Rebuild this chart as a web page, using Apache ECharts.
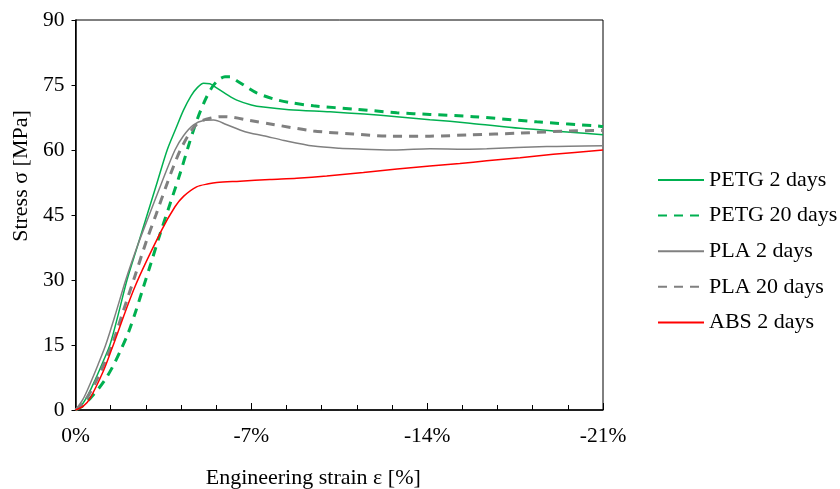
<!DOCTYPE html>
<html>
<head>
<meta charset="utf-8">
<script src="https://cdn.jsdelivr.net/npm/echarts@6/dist/echarts.min.js"></script>
<style>
  html, body { margin: 0; padding: 0; background: #fff; }
  #chart { width: 840px; height: 489px; }
</style>
</head>
<body>
<div id="chart"></div>
<script>
// Compression stress-strain curves (strain in %, stress in MPa)
const seriesNames = ['PETG 2 days', 'PETG 20 days', 'PLA 2 days', 'PLA 20 days', 'ABS 2 days'];

const petg2Strain = [0, -0.2, -0.5, -0.8, -1.1, -1.37, -1.7, -2.05, -2.45, -2.85, -3.25, -3.65, -4.0, -4.3, -4.6, -4.85, -5.1, -5.35, -5.6, -6.0, -6.42, -7.0, -7.48, -8.5, -10.13, -11.5, -12.79, -14.11, -15.7, -17.7, -19.69, -21.0];
const petg2Stress = [0, 0.8, 3.5, 7.2, 11.2, 15.0, 22.0, 30.0, 37.5, 45.0, 52.5, 60.0, 65.0, 69.2, 72.5, 74.4, 75.4, 75.3, 74.4, 72.9, 71.5, 70.4, 69.9, 69.3, 68.8, 68.3, 67.7, 67.0, 66.2, 65.0, 64.1, 63.5];

const petg20Strain = [0, -0.3, -0.6, -0.9, -1.2, -1.5, -1.8, -2.1, -2.4, -2.7, -3.0, -3.36, -3.76, -4.16, -4.49, -4.75, -4.96, -5.2, -5.45, -5.7, -5.95, -6.15, -6.42, -6.8, -7.21, -7.87, -8.5, -9.47, -11.19, -12.79, -14.11, -15.84, -18.36, -20.88, -21.0];
const petg20Stress = [0, 1.0, 2.8, 4.8, 7.2, 10.2, 13.8, 17.8, 22.8, 28.3, 33.8, 40.5, 47.5, 54.5, 60.8, 65.5, 68.8, 72.0, 74.6, 76.2, 76.9, 76.9, 76.0, 74.6, 73.2, 71.8, 71.0, 70.2, 69.4, 68.6, 68.2, 67.7, 66.5, 65.5, 65.4];

const pla2Strain = [0, -0.3, -0.6, -0.9, -1.2, -1.6, -2.0, -2.45, -2.9, -3.4, -3.96, -4.3, -4.7, -5.1, -5.5, -6.0, -6.55, -6.95, -7.48, -8.3, -9.47, -10.5, -11.46, -12.79, -14.11, -15.5, -16.37, -18.76, -21.0];
const pla2Stress = [0, 2.5, 6.3, 10.5, 15.0, 22.3, 30.0, 37.6, 44.5, 52.0, 60.0, 63.3, 65.8, 66.8, 66.9, 65.9, 64.6, 63.9, 63.3, 62.2, 60.9, 60.4, 60.2, 60.0, 60.3, 60.2, 60.3, 60.8, 61.0];

const pla20Strain = [0, -0.3, -0.6, -0.9, -1.2, -1.5, -1.9, -2.37, -2.8, -3.2, -3.63, -3.9, -4.16, -4.45, -4.75, -5.05, -5.4, -5.85, -6.3, -6.95, -7.87, -9.47, -11.06, -12.52, -14.11, -15.7, -17.7, -19.69, -21.0];
const pla20Stress = [0, 1.5, 4.2, 7.6, 11.5, 15.8, 22.8, 31.0, 38.6, 45.0, 52.0, 56.2, 59.8, 63.0, 65.5, 66.8, 67.4, 67.7, 67.5, 66.8, 65.9, 64.4, 63.7, 63.2, 63.2, 63.5, 63.9, 64.4, 64.5];

const abs2Strain = [0, -0.31, -0.58, -1.11, -1.44, -2.37, -3.43, -3.96, -4.3, -4.82, -5.3, -5.62, -6.55, -7.74, -8.81, -10.0, -11.46, -12.8, -14.11, -15.3, -16.37, -17.7, -19.02, -21.0];
const abs2Stress = [0, 0.9, 2.7, 9.0, 14.0, 28.5, 41.5, 46.9, 49.3, 51.5, 52.2, 52.5, 52.8, 53.2, 53.5, 54.0, 54.8, 55.6, 56.3, 56.9, 57.5, 58.2, 59.0, 60.0];

// Axis ticks
const strainTicks = [0, -7, -14, -21];
const stressTicks = [0, 15, 30, 45, 60, 75, 90];

const FONT = 'Liberation Serif';
const GREEN = '#00B050', GREY = '#808080', RED = '#FF0000';

function pairs(xs, ys) { return xs.map((x, i) => [x, ys[i]]); }

function curve(name, xs, ys, color, dashed) {
  return {
    name: name,
    type: 'line',
    data: pairs(xs, ys),
    symbol: 'none',
    showSymbol: false,
    smooth: 0.3,
    lineStyle: { color: color, width: dashed ? 3 : 1.5, type: dashed ? [9, 7] : 'solid' },
    itemStyle: { color: color },
    emphasis: { disabled: true },
    animation: false
  };
}

const chart = echarts.init(document.getElementById('chart'), null, { renderer: 'canvas' });
chart.setOption({
  backgroundColor: '#ffffff',
  animation: false,
  grid: {
    left: 75.5, right: 237, top: 20, bottom: 79,
    outerBoundsMode: 'none',
    show: true, borderColor: '#000', borderWidth: 1, backgroundColor: 'transparent'
  },
  legend: {
    orient: 'vertical',
    left: 657,
    top: 169,
    padding: 0,
    itemWidth: 46,
    itemHeight: 14,
    itemGap: 13.6,
    data: seriesNames,
    itemStyle: { opacity: 0 },
    textStyle: { fontFamily: FONT, fontSize: 22, color: '#000', lineHeight: 22 }
  },
  xAxis: {
    type: 'value',
    min: strainTicks[strainTicks.length - 1],
    max: strainTicks[0],
    interval: 7,
    inverse: true,
    name: 'Engineering strain ε [%]',
    nameLocation: 'middle',
    nameGap: 57,
    nameTextStyle: { fontFamily: FONT, fontSize: 22, color: '#000', padding: [0, 52, 0, 0] },
    axisLine: { show: true, onZero: false, lineStyle: { color: '#000', width: 1.5 } },
    axisTick: { show: true, inside: true, length: 7, lineStyle: { color: '#000', width: 1 } },
    minorTick: { show: true, splitNumber: 5, length: 5, lineStyle: { color: '#000', width: 1 } },
    axisLabel: { fontFamily: FONT, fontSize: 21.5, color: '#000', margin: 15.5, formatter: v => (v === 0 ? 0 : v) + '%' },
    splitLine: { show: false }
  },
  yAxis: {
    type: 'value',
    min: stressTicks[0],
    max: stressTicks[stressTicks.length - 1],
    interval: 15,
    name: 'Stress σ [MPa]',
    nameLocation: 'middle',
    nameGap: 43,
    nameTextStyle: { fontFamily: FONT, fontSize: 22, color: '#000', padding: [0, 0, 0, 78] },
    axisLine: { show: true, onZero: false, lineStyle: { color: '#000', width: 1.5 } },
    axisTick: { show: true, inside: false, length: 4, lineStyle: { color: '#000', width: 1 } },
    axisLabel: { fontFamily: FONT, fontSize: 21.5, color: '#000', margin: 11 },
    splitLine: { show: false }
  },
  series: [
    curve(seriesNames[0], petg2Strain, petg2Stress, GREEN, false),
    curve(seriesNames[1], petg20Strain, petg20Stress, GREEN, true),
    curve(seriesNames[2], pla2Strain, pla2Stress, GREY, false),
    curve(seriesNames[3], pla20Strain, pla20Stress, GREY, true),
    curve(seriesNames[4], abs2Strain, abs2Stress, RED, false)
  ]
});
</script>
</body>
</html>
